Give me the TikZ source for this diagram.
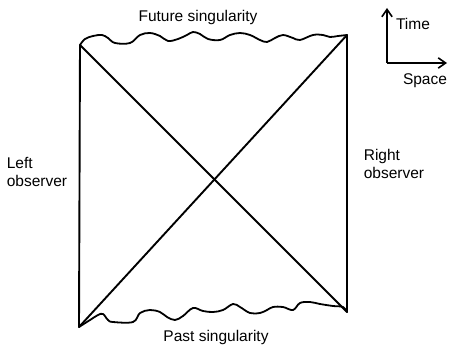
\documentclass[tikz,border=0pt]{standalone}
\usepackage{fontspec}
\setmainfont{Liberation Sans}
\usetikzlibrary{arrows.meta}
\definecolor{inkblack}{RGB}{0,0,0}
\tikzset{
  edge/.style={line width=1.9pt, draw=inkblack, line join=round, line cap=round},
  singular/.style={edge, line width=1.8pt},
  axis/.style={-{Straight Barb[length=2.6mm,width=3.6mm]}, line width=1.6pt, draw=inkblack},
  lbl/.style={font=\fontsize{15.5}{18}\selectfont, inner sep=0pt, align=left}
}
\begin{document}
\begin{tikzpicture}[x=1pt, y=-1pt]
  \useasboundingbox (0,0) rectangle (449,347);
  % corners of the diagram
  \coordinate (tl) at (80,45);
  \coordinate (tr) at (347,35);
  \coordinate (bl) at (79,327);
  \coordinate (br) at (347,312);

  % horizon lines and boundaries
  \draw[edge] (tl) -- (bl);
  \draw[edge] (tr) -- (br);
  \draw[edge] (tl) -- (br);
  \draw[edge] (bl) -- (tr);

  % future singularity
  \draw[singular] plot[smooth, tension=0.6] coordinates {(80,45) (85,39) (93,36) (102,35)
    (108,38) (115,43) (130,43) (140,35) (150,33) (160,36) (168,41) (178,39) (187,35)
    (193,32) (200,34) (208,39) (220,40) (230,35) (240,33) (250,35) (260,40) (267,42)
    (275,38) (283,35) (293,38) (300,40) (313,35) (323,35) (330,37) (338,36) (347,35)};
  % past singularity
  \draw[singular] plot[smooth, tension=0.6] coordinates {(79,327) (90,320) (98,315)
    (103,314) (108,320) (113,322) (133,322) (140,313) (150,310) (160,312) (167,317)
    (175,320) (183,316) (193,308) (203,311) (213,312) (223,310) (233,304) (240,307)
    (250,313) (260,313) (267,310) (273,307) (283,307) (293,310) (300,303) (310,302)
    (320,304) (333,306) (343,307) (347,312)};

  % labels
  \node[lbl] (future) at (198,17) {Future singularity};
  \node[lbl] (past) at (216,337) {Past singularity};
  \node[lbl] (left) at (37,172) {Left\\observer};
  \node[lbl] (right) at (394,164) {Right\\observer};

  % axes
  \coordinate (origin) at (387,63);
  \coordinate (tend) at (387,8);
  \coordinate (send) at (447,63);
  \draw[axis] (origin) -- (tend);
  \draw[axis] (origin) -- (send);
  \node[lbl] (time) at (413,24) {Time};
  \node[lbl] (space) at (425,81) {Space};
\end{tikzpicture}
\end{document}
